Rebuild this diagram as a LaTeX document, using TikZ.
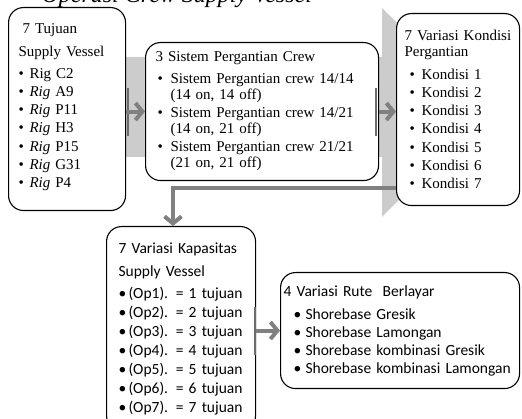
\documentclass[tikz,border=0pt]{standalone}
\usepackage{fontspec}
\setmainfont{Liberation Serif}
\newfontfamily\calibri{Carlito}
\usetikzlibrary{arrows.meta}
\newcommand{\itm}[3][0pt]{\par\hangindent=#2\hangafter=1\makebox[#2][l]{\hspace*{#1}\textbullet}#3\par}
\newcommand{\pushup}[1]{\par\vspace{#1}\hrule height 0pt}
\begin{document}
\begin{tikzpicture}[
	x=1pt, y=-1pt,
	box/.style={draw, fill=white, rounded corners=15pt, line width=1.1pt, anchor=north west, align=left, inner ysep=0pt},
	sans/.style={font=\calibri\fontsize{15.5}{19}\selectfont},
	bgarrow/.style={fill=gray!40},
	flow/.style={draw=gray, line width=4pt, -{Straight Barb[length=7pt, width=17pt]}},
	tailbar/.style={draw=gray!85!black, line width=1.5pt},
	font=\fontsize{15}{18.3}\selectfont
	]
	\useasboundingbox (0,0) rectangle (522,419);
	\clip (0,0) rectangle (522,419);

	\node[anchor=base west, font=\fontsize{24}{24}\selectfont\itshape] (judul) at (38,3) {Operasi Crew Supply Vessel};

	% big grey arrow behind the top row
	\fill[bgarrow] (60,57) -- (382,57) -- (382,8) -- (486,112) -- (382,217) -- (382,157) -- (60,157) -- cycle;

	\node[box, minimum width=117, minimum height=203, text width=97, inner xsep=10pt] (tujuan) at (8,7) {%
		\hspace*{4pt}7 Tujuan\par\vspace{4.7pt}
		Supply Vessel\par\vspace{3.7pt}
		\itm{11pt}{Rig C2}
		\itm{11pt}{\textit{Rig} A9}
		\itm{11pt}{\textit{Rig} P11}
		\itm{11pt}{\textit{Rig} H3}
		\itm{11pt}{\textit{Rig} P15}
		\itm{11pt}{\textit{Rig} G31}
		\itm{11pt}{\textit{Rig} P4}
		\pushup{4pt}};
	\node[box, minimum width=233, minimum height=138, text width=213, inner xsep=10pt,
		font=\fontsize{15}{16}\selectfont] (sistem) at (145,42) {%
		3 Sistem Pergantian Crew\par\vspace{6pt}
		\itm[2pt]{15pt}{Sistem Pergantian crew 14/14\newline(14 on, 14 off)}\vspace{2pt}
		\itm[2pt]{15pt}{Sistem Pergantian crew 14/21\newline(14 on, 21 off)}\vspace{2pt}
		\itm[2pt]{15pt}{Sistem Pergantian crew 21/21\newline(21 on, 21 off)}};
	\node[box, minimum width=123, minimum height=192, text width=107, inner xsep=8pt,
		font=\fontsize{15}{15.5}\selectfont] (kondisi) at (396,13) {%
		7 Variasi Kondisi\newline Pergantian\par
		\fontsize{15}{18.3}\selectfont\vspace{4.7pt}
		\itm[5pt]{17pt}{Kondisi 1}
		\itm[5pt]{17pt}{Kondisi 2}
		\itm[5pt]{17pt}{Kondisi 3}
		\itm[5pt]{17pt}{Kondisi 4}
		\itm[5pt]{17pt}{Kondisi 5}
		\itm[5pt]{17pt}{Kondisi 6}
		\itm[5pt]{17pt}{Kondisi 7}};
	\node[box, sans, minimum width=149, minimum height=204, text width=125, inner xsep=12pt] (kapasitas) at (106,226) {%
		7 Variasi Kapasitas\par\vspace{4pt}
		Supply Vessel\par\vspace{3pt}
		\itm{10pt}{(Op1). = 1 tujuan}
		\itm{10pt}{(Op2). = 2 tujuan}
		\itm{10pt}{(Op3). = 3 tujuan}
		\itm{10pt}{(Op4). = 4 tujuan}
		\itm{10pt}{(Op5). = 5 tujuan}
		\itm{10pt}{(Op6). = 6 tujuan}
		\itm{10pt}{(Op7). = 7 tujuan}};
	\node[box, sans, font=\calibri\fontsize{15.5}{18}\selectfont, minimum width=239, minimum height=116, text width=233, inner xsep=3pt] (rute) at (280,272) {%
		4 Variasi Rute~ Berlayar\par\vspace{5pt}
		\itm[10pt]{22pt}{Shorebase Gresik}
		\itm[10pt]{22pt}{Shorebase Lamongan}
		\itm[10pt]{22pt}{Shorebase kombinasi Gresik}
		\itm[10pt]{22pt}{Shorebase kombinasi Lamongan}};

	\coordinate (ekor1) at (tujuan.east |- sistem.west);
	\coordinate (ekor4) at (kapasitas.east |- rute.west);
	\coordinate (belok) at (173,188);
	\draw[tailbar] ([xshift=2pt]ekor1) ++(0,-24) -- ++(0,48);
	\draw[tailbar] ([xshift=-3pt]sistem.east) ++(0,-24) -- ++(0,48);
	\draw[tailbar] ([xshift=-1pt]ekor4) ++(0,-24) -- ++(0,48);
	\draw[flow] (ekor1) -- (sistem.west);
	\draw[flow] (sistem.east) -- (sistem.east -| kondisi.west);
	\draw[flow] (kondisi.west |- belok) -- (belok) -- (belok |- kapasitas.north);
	\draw[flow] (ekor4) -- (rute.west);
\end{tikzpicture}
\end{document}
